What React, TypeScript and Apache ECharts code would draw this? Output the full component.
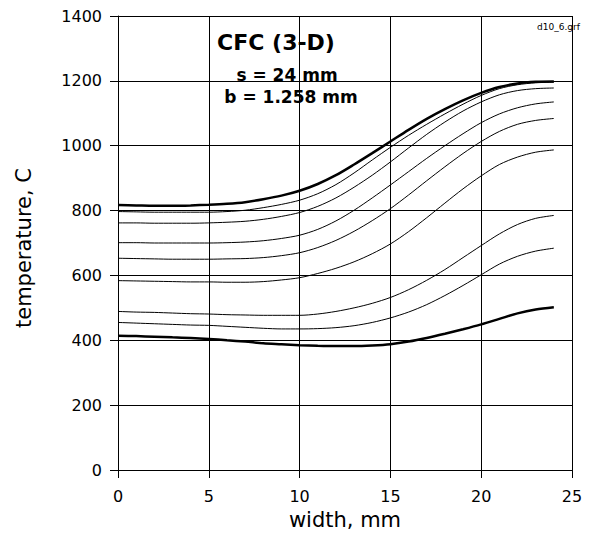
import React, { useEffect, useRef } from "react";
import * as echarts from "echarts";

const widths = [0, 1, 2, 3, 4, 5, 6, 7, 8, 9, 10, 11, 12, 13, 14, 15, 16, 17, 18, 19, 20, 21, 22, 23, 24];
const curve1 = [817, 816, 815, 815, 816, 818, 821, 826, 835, 846, 861, 882, 909, 942, 977, 1013, 1049, 1083, 1113, 1140, 1163, 1181, 1192, 1197, 1198];
const curve2 = [797, 796, 795, 795, 795, 795, 797, 801, 809, 819, 832, 852, 880, 916, 956, 995, 1032, 1066, 1098, 1128, 1155, 1176, 1188, 1194, 1196];
const curve3 = [762, 762, 761, 761, 761, 762, 764, 767, 773, 782, 794, 813, 839, 872, 909, 950, 993, 1035, 1073, 1107, 1135, 1157, 1170, 1176, 1178];
const curve4 = [701, 701, 700, 700, 700, 700, 701, 703, 707, 714, 724, 742, 768, 801, 839, 879, 920, 961, 1000, 1037, 1071, 1098, 1117, 1129, 1135];
const curve5 = [653, 652, 651, 650, 650, 650, 651, 652, 655, 661, 670, 686, 708, 736, 769, 806, 848, 892, 935, 976, 1013, 1044, 1066, 1078, 1084];
const curve6 = [584, 583, 582, 581, 580, 580, 579, 579, 581, 586, 593, 606, 622, 642, 667, 697, 735, 778, 823, 867, 907, 942, 965, 980, 987];
const curve7 = [489, 487, 486, 484, 482, 481, 479, 478, 477, 477, 477, 481, 489, 500, 514, 532, 556, 585, 618, 655, 692, 728, 757, 776, 785];
const curve8 = [455, 453, 451, 449, 447, 446, 443, 440, 437, 435, 435, 436, 439, 445, 455, 469, 487, 510, 538, 569, 602, 635, 659, 675, 684];
const curve9 = [414, 413, 411, 409, 407, 404, 400, 396, 391, 388, 385, 383, 382, 382, 384, 388, 396, 407, 420, 434, 449, 466, 483, 495, 502];

const curves = [curve1, curve2, curve3, curve4, curve5, curve6, curve7, curve8, curve9];
const thickIdx = [0, 8];

const xTicks = { min: 0, max: 25, interval: 5 };
const yTicks = { min: 0, max: 1400, interval: 200 };

const FONT = "DejaVu Sans";

export default function App() {
  const ref = useRef<HTMLDivElement>(null);
  useEffect(() => {
    document.body.style.margin = "0";
    if (!ref.current) return;
    const chart = echarts.init(ref.current, undefined, { renderer: "svg" });
    const series = curves.map((c, i) => ({
      type: "line",
      data: c.map((v, j) => [widths[j], v]),
      smooth: 0.3,
      showSymbol: false,
      symbol: "none",
      lineStyle: { color: "#000", width: thickIdx.includes(i) ? 2.5 : 1 },
      silent: true,
    }));
    chart.setOption({
      animation: false,
      backgroundColor: "#fff",
      grid: { left: 118, right: 29, top: 16, bottom: 67, containLabel: false },
      xAxis: {
        type: "value",
        ...xTicks,
        axisLine: { show: true, lineStyle: { color: "#000", width: 1 } },
        axisTick: { show: true, length: 8, lineStyle: { color: "#000" } },
        axisLabel: { color: "#000", fontFamily: FONT, fontSize: 16, margin: 18, formatter: (v: number) => String(v) },
        splitLine: { show: true, lineStyle: { color: "#000", width: 1 } },
      },
      yAxis: {
        type: "value",
        ...yTicks,
        axisLine: { show: true, lineStyle: { color: "#000", width: 1 } },
        axisTick: { show: true, length: 8, lineStyle: { color: "#000" } },
        axisLabel: { color: "#000", fontFamily: FONT, fontSize: 16, margin: 16, formatter: (v: number) => String(v) },
        splitLine: { show: true, lineStyle: { color: "#000", width: 1 } },
      },
      series,
      graphic: [
        {
          type: "text",
          style: {
            text: "CFC (3-D)",
            x: 276,
            y: 42,
            align: "center",
            verticalAlign: "middle",
            font: `bold 22px "${FONT}"`,
            fill: "#000",
          },
        },
        {
          type: "text",
          style: {
            text: "s = 24 mm",
            x: 287,
            y: 75,
            align: "center",
            verticalAlign: "middle",
            font: `bold 17px "${FONT}"`,
            fill: "#000",
          },
        },
        {
          type: "text",
          style: {
            text: "b = 1.258 mm",
            x: 291,
            y: 97,
            align: "center",
            verticalAlign: "middle",
            font: `bold 17px "${FONT}"`,
            fill: "#000",
          },
        },
        {
          type: "text",
          style: {
            text: "d10_6.grf",
            x: 537,
            y: 27,
            align: "left",
            verticalAlign: "middle",
            font: `9px "${FONT}"`,
            fill: "#000",
          },
        },
        {
          type: "text",
          style: {
            text: "width, mm",
            x: 345,
            y: 520,
            align: "center",
            verticalAlign: "middle",
            font: `21px "${FONT}"`,
            fill: "#000",
          },
        },
        {
          type: "text",
          x: 24,
          y: 248,
          rotation: Math.PI / 2,
          style: {
            text: "temperature, C",
            x: 0,
            y: 0,
            align: "center",
            verticalAlign: "middle",
            font: `21px "${FONT}"`,
            fill: "#000",
          },
        },
      ],
    });
    return () => chart.dispose();
  }, []);
  return <div ref={ref} style={{ width: 601, height: 537 }} />;
}
